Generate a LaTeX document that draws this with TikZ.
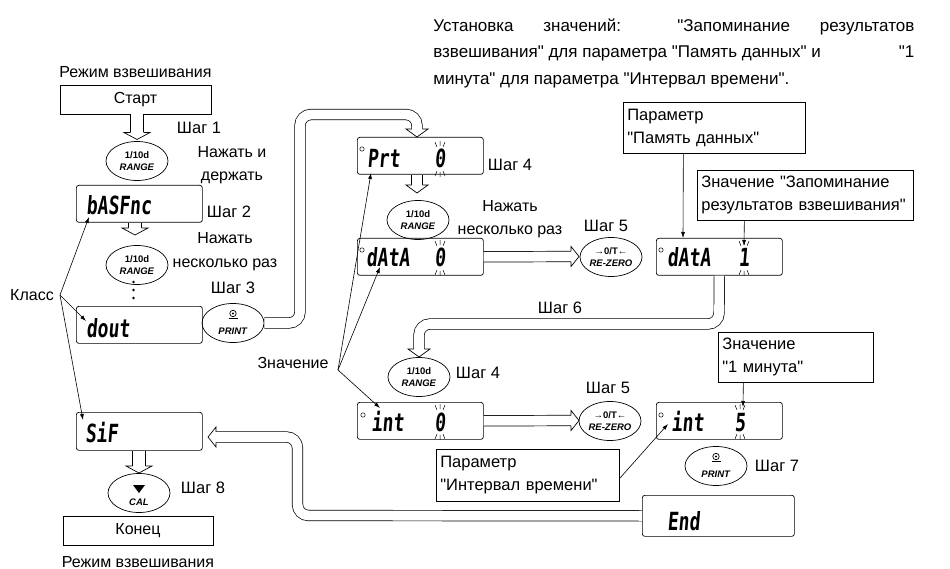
\documentclass[tikz,border=0pt]{standalone}
\usepackage{fontspec}
\usepackage{graphicx}
\setmainfont{Liberation Sans}[Ligatures=TeXOff]
\newfontfamily\segfont[FakeSlant=0.12]{DejaVu Sans Mono}
\usetikzlibrary{shapes.geometric,arrows.meta}
\newcommand\segtxt[1]{\scalebox{0.72}[1]{#1}}
\newcommand\blinkrays[3]{%
  \draw[ray] (#1-5,#2-8) -- (#1-3,#2-3) (#1,#2-9) -- (#1,#2-4) (#1+5,#2-8) -- (#1+3,#2-3);
  \draw[ray] (#1-5,#3+8) -- (#1-3,#3+3) (#1,#3+9) -- (#1,#3+4) (#1+5,#3+8) -- (#1+3,#3+3);}
\begin{document}
\begin{tikzpicture}[x=1pt,y=-1pt,line width=0.7pt,
 every node/.style={inner sep=0pt},
 lbl/.style={font={\fontsize{16}{23.5}\selectfont}, align=center},
 stp/.style={font={\fontsize{16.5}{19}\selectfont}},
 hdr/.style={font={\fontsize{17}{20}\selectfont}, anchor=base west},
 disp/.style={draw, rounded corners=2.5pt, anchor=north west, minimum width=126pt, minimum height=37pt},
 seg/.style={font={\segfont\bfseries\fontsize{25}{25}\selectfont}, anchor=base west},
 digit/.style={font={\segfont\bfseries\fontsize{25}{25}\selectfont}, anchor=base},
 btn/.style={draw, ellipse, minimum width=62pt, minimum height=39pt},
 btxt/.style={font={\bfseries\fontsize{9.5}{11.5}\selectfont}, align=center},
 infobox/.style={draw, anchor=north west, align=left, inner xsep=4pt, font={\fontsize{16.5}{23}\selectfont}},
 arr/.style={-{Latex[length=6pt,width=4pt]}, line width=0.6pt},
 dbl/.style={line width=0.7pt, double=white, double distance=9.8pt},
 dblw/.style={line width=0.7pt, double=white, double distance=12.3pt},
 ray/.style={line width=0.5pt},
 hdD/.pic={\draw[fill=white] (-5.25,0) -- (-11,0) -- (0,8) -- (11,0) -- (5.25,0);},
 hdDw/.pic={\draw[fill=white] (-6.5,0) -- (-13,0) -- (0,7) -- (13,0) -- (6.5,0);},
 hdR/.pic={\draw[fill=white] (0,-5.25) -- (0,-10) -- (8,0) -- (0,10) -- (0,5.25);},
 hdL/.pic={\draw[fill=white] (0,-5.25) -- (0,-10) -- (-8,0) -- (0,10) -- (0,5.25);}
]
\useasboundingbox (0,0) rectangle (950,569);

% header
\node[hdr] (h1) at (433,31.5) {\makebox[481pt][s]{Установка значений: "Запоминание результатов}};
\node[hdr] (h2) at (433,58) {\makebox[481pt][l]{взвешивания" для параметра "Память данных" и\hfill"1}};
\node[hdr] (h3) at (433,84.5) {минута" для параметра "Интервал времени".};

% left column
\node[lbl] (mode1) at (135.5,72) {Режим взвешивания};
\node[lbl, draw, minimum width=151pt, minimum height=29pt] (start) at (135.5,99.5) {Старт};
\node[stp] (s1) at (199,128) {Шаг 1};
\node[lbl] (hold) at (232,165) {Нажать и\\держать};
\node[btn] (r1) at (137,161) {};
\node[btxt] (r1t) at (137,161) {1/10d\\\textit{RANGE}};
\node[disp] (dbas) at (76,185) {};
\node[seg] (tbas) at (86,215) {\segtxt{bASFnc}};
\node[stp] (s2) at (229,212) {Шаг 2};
\node[btn] (r2) at (137,265) {};
\node[btxt] (r2t) at (137,265) {1/10d\\\textit{RANGE}};
\node[lbl] (rep1) at (225,251.5) {Нажать\\несколько раз};
\fill (133.5,282) circle (1.4) (133.5,290) circle (1.4) (133.5,298) circle (1.4);
\node[stp] (s3) at (233,288) {Шаг 3};
\node[lbl] (klass) at (32,295) {Класс};
\node[disp] (ddout) at (76,306) {};
\node[seg] (tdout) at (86,337) {\segtxt{dout}};
\node[btn] (p1) at (233,323) {};
\node[btxt] (p1t) at (233,331) {\textit{PRINT}};
\draw (233,313.5) circle (3.2); \fill (233,313.5) circle (1.1);
\draw (228.5,318.5) -- (237.5,318.5);
\node[disp, minimum height=38pt] (dsif) at (76,412) {};
\node[seg] (tsif) at (85,442) {\segtxt{SiF}};
\node[btn] (cal) at (139,493) {};
\fill (133,485) -- (145,485) -- (139,493) -- cycle;
\node[btxt] (calt) at (139,502) {\textit{CAL}};
\node[stp] (s8) at (203,488) {Шаг 8};
\node[lbl, draw, minimum width=150pt, minimum height=29pt] (fin) at (138,530.5) {Конец};
\node[lbl, anchor=base] (mode2) at (138,567) {Режим взвешивания};

% middle column
\node[disp] (dprt) at (357,137) {};
\node[seg] (tprt) at (367,168) {\segtxt{Prt}};
\node[digit] (gprt) at (440,168) {\segtxt{0}};
\blinkrays{440}{150}{168}
\node[stp] (s4a) at (510,165) {Шаг 4};
\node[btn] (r3) at (418,220) {};
\node[btxt] (r3t) at (418,220) {1/10d\\\textit{RANGE}};
\node[lbl] (rep2) at (510,219) {Нажать\\несколько раз};
\node[disp] (dd1) at (357,238) {};
\node[seg] (tdd1) at (366,267) {\segtxt{dAtA}};
\node[digit] (gdd1) at (440,267) {\segtxt{0}};
\blinkrays{440}{249}{267}
\node[stp] (s5a) at (606,226) {Шаг 5};
\node[btn] (z1) at (611,257) {};
\node[btxt] (z1t) at (611,257) {→0/T←\\\textit{RE-ZERO}};
\node[stp] (s6) at (560,308) {Шаг 6};
\node[lbl] (znach) at (293,363) {Значение};
\node[btn] (r4) at (419,377) {};
\node[btxt] (r4t) at (419,377) {1/10d\\\textit{RANGE}};
\node[stp] (s4b) at (478,373) {Шаг 4};
\node[disp] (di1) at (357,402) {};
\node[seg] (tdi1) at (371,431) {\segtxt{int}};
\node[digit] (gdi1) at (440,431) {\segtxt{0}};
\blinkrays{440}{413}{431}
\node[stp] (s5b) at (608,388) {Шаг 5};
\node[btn] (z2) at (610,421) {};
\node[btxt] (z2t) at (610,421) {→0/T←\\\textit{RE-ZERO}};
\node[infobox, text width=175pt, minimum height=52pt] (biv) at (436,449) {Параметр\\"Интервал времени"};

% right column
\node[infobox, text width=174pt, minimum height=51pt] (bpm) at (623,102) {Параметр\\"Память данных"};
\node[infobox, text width=208pt, minimum height=50pt] (bzn) at (697,170) {Значение "Запоминание\\результатов взвешивания"};
\node[disp] (dd2) at (656,238) {};
\node[seg] (tdd2) at (667,267) {\segtxt{dAtA}};
\node[digit] (gdd2) at (744,267) {\segtxt{1}};
\blinkrays{744}{249}{267}
\node[infobox, text width=147pt, minimum height=50pt] (b1m) at (718,332) {Значение\\"1 минута"};
\node[disp] (di2) at (656,402) {};
\node[seg] (tdi2) at (671,431) {\segtxt{int}};
\node[digit] (gdi2) at (740,431) {\segtxt{5}};
\blinkrays{740}{413}{431}
\node[btn] (p2) at (716,466) {};
\node[btxt] (p2t) at (716,474) {\textit{PRINT}};
\draw (716,456.5) circle (3.2); \fill (716,456.5) circle (1.1);
\draw (711.5,461.5) -- (720.5,461.5);
\node[stp] (s7) at (777,466) {Шаг 7};
\node[disp, minimum width=152pt, minimum height=41pt] (dend) at (642,495) {};
\node[seg] (tend) at (667,530) {\segtxt{End}};

% degree marks
\draw[line width=0.5pt] (362,149) circle (2.2) (362,250) circle (2.2) (363,415) circle (2.2)
  (661,250) circle (2.2) (661,415) circle (2.2);

% hollow connectors
\coordinate (c1) at (137,132.5);
\draw[dblw] (r1.north |- start.south) -- (c1);
\pic at (c1) {hdDw};
\coordinate (c2) at (135,228);
\draw[dblw] (dbas.south -| c2) -- (c2);
\pic at (c2) {hdDw};
\coordinate (c3) at (417,129);
\draw[dbl, rounded corners=11pt] (p1.east) -- (300,323) -- (300,114.5) -- (417,114.5) -- (c3);
\pic at (c3) {hdD};
\coordinate (c4) at (417,185);
\draw[dbl] (dprt.south -| c4) -- (c4);
\pic at (c4) {hdD};
\coordinate (c5) at (571,256.5);
\draw[dbl] (dd1.east) -- (c5);
\pic at (c5) {hdR};
\coordinate (c6) at (419,349);
\draw[dbl, rounded corners=11pt] (dd2.south) -- (719,324) -- (419,324) -- (c6);
\pic at (c6) {hdD};
\coordinate (c7) at (571,420.5);
\draw[dbl] (di1.east) -- (c7);
\pic at (c7) {hdR};
\coordinate (c8) at (216,437);
\draw[dbl, rounded corners=11pt] (dend.west) -- (297.5,515.5) -- (297.5,437) -- (c8);
\pic at (c8) {hdL};
\coordinate (c9) at (139,466);
\draw[dblw] (dsif.south -| c9) -- (c9);
\pic at (c9) {hdDw};

% thin pointer arrows
\coordinate (ka) at (60,295);
\coordinate (kb) at (89,217);
\coordinate (kd) at (86,321);
\coordinate (ks) at (83,420);
\draw[arr] (ka) -- (kb);
\draw[arr] (ka) -- (kd);
\draw[arr] (ka) -- (ks);
\coordinate (za) at (338,370);
\coordinate (zp) at (371,173);
\coordinate (zd) at (380,267);
\coordinate (zi) at (380,408);
\draw[arr] (za) -- (zp);
\draw[arr] (za) -- (zd);
\draw[arr] (za) -- (zi);
\coordinate (pmE) at (683,238);
\draw[arr] ([xshift=-31pt]bpm.south) -- (pmE);
\coordinate (znE) at (744,246);
\draw[arr] ([xshift=-61pt]bzn.south) -- (znE);
\coordinate (mE) at (743,407);
\draw[arr] ([xshift=-52.5pt]b1m.south) -- (mE);
\coordinate (ivE) at (668,424);
\draw[arr] ([yshift=-3pt]biv.east) -- (ivE);
\end{tikzpicture}
\end{document}
